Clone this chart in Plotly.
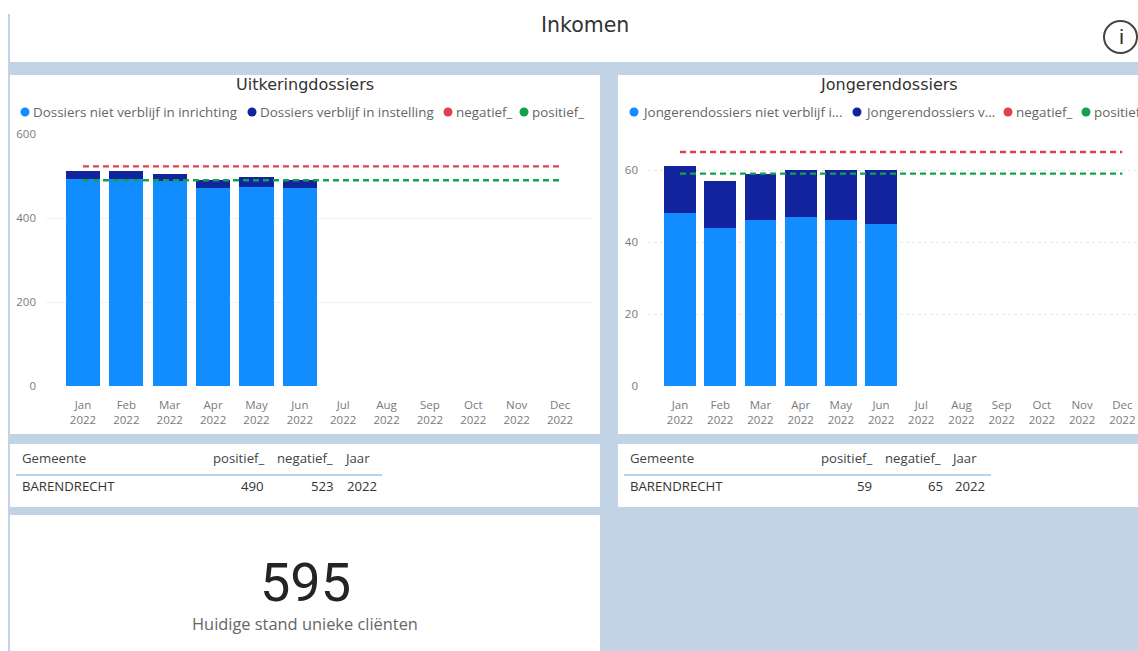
import plotly.graph_objects as go

W, H = 1138, 651

months = ["Jan", "Feb", "Mar", "Apr", "May", "Jun", "Jul", "Aug", "Sep", "Oct", "Nov", "Dec"]
year = "2022"
categories = [f"{m}<br>{year}" for m in months]

left_title = "Uitkeringdossiers"
left_outside = [493, 493, 488, 472, 475, 471]
left_inside = [19, 19, 16, 18, 22, 19]
left_positive = [490] * 12
left_negative = [523] * 12
left_ticks = [0, 200, 400, 600]

right_title = "Jongerendossiers"
right_outside = [48, 44, 46, 47, 46, 45]
right_inside = [13, 13, 13, 13, 14, 15]
right_positive = [59] * 12
right_negative = [65] * 12
right_ticks = [0, 20, 40, 60]

page_title = "Inkomen"
kpi_value = "595"
kpi_label = "Huidige stand unieke cliënten"
table_headers = ["Gemeente", "positief_", "negatief_", "Jaar"]
left_row = ["BARENDRECHT", "490", "523", "2022"]
right_row = ["BARENDRECHT", "59", "65", "2022"]

BLUE, NAVY, RED, GREEN = "#118DFF", "#12239E", "#E0414F", "#12A24C"
BG = "#C3D3E6"
FONT = "Open Sans, sans-serif"
TITLE_FONT = "DejaVu Sans, sans-serif"
GREY = "#7a7a7a"
DARK = "#444444"


def px(x):
    return x / W


def py(y):
    return 1 - y / H


fig = go.Figure()


def add_chart(outside, inside, pos, neg, xa, ya, names):
    xn, yn = xa.replace("axis", ""), ya.replace("axis", "")
    fig.add_bar(x=categories[:6], y=outside, marker_color=BLUE, marker_line_width=0, name=names[0], xaxis=xn, yaxis=yn)
    fig.add_bar(x=categories[:6], y=inside, marker_color=NAVY, marker_line_width=0, name=names[1], xaxis=xn, yaxis=yn)
    fig.add_scatter(x=categories, y=neg, mode="lines", line=dict(color=RED, width=2.4, dash="6px,4px"), name="negatief_", xaxis=xn, yaxis=yn)
    fig.add_scatter(x=categories, y=pos, mode="lines", line=dict(color=GREEN, width=2.4, dash="6px,4px"), name="positief_", xaxis=xn, yaxis=yn)


add_chart(left_outside, left_inside, left_positive, left_negative, "xaxis", "yaxis",
          ["Dossiers niet verblijf in inrichting", "Dossiers verblijf in instelling"])
add_chart(right_outside, right_inside, right_positive, right_negative, "xaxis2", "yaxis2",
          ["Jongerendossiers niet verblijf in inrichting", "Jongerendossiers verblijf in instelling"])

shapes = []


def rect(x0, y0, x1, y1, color="white"):
    shapes.append(dict(type="rect", xref="paper", yref="paper", x0=px(x0), x1=px(x1), y0=py(y0), y1=py(y1),
                       fillcolor=color, line_width=0, layer="below"))


# page background and cards
rect(0, 0, 8, H, "white")
rect(8, 0, W, 14, "white")
rect(10, 14, W, 62)
rect(10, 75, 600, 434)
rect(618, 75, W, 434)
rect(10, 444, 600, 507)
rect(618, 444, W, 507)
rect(10, 515, 600, H)

annotations = []


def text(x, y, s, size=12, color=DARK, anchor="left", family=FONT):
    shift = {"left": -2, "right": 2, "center": 0}[anchor]
    annotations.append(dict(xref="paper", yref="paper", x=px(x), y=py(y), text=s, showarrow=False,
                            xanchor=anchor, yanchor="middle", align=anchor, xshift=shift, yshift=0,
                            font=dict(size=size, color=color, family=family)))


text(585, 25, page_title, 20.5, "#333333", "center", TITLE_FONT)
text(305, 84, left_title, 16, "#333333", "center", TITLE_FONT)
text(889, 84, right_title, 16, "#333333", "center", TITLE_FONT)

# info icon
shapes.append(dict(type="circle", xref="paper", yref="paper", x0=px(1104), x1=px(1137), y0=py(53), y1=py(21),
                   line=dict(color="#444444", width=2), fillcolor="white"))
text(1121, 37, "i", 21, "#333333", "center", "Roboto, sans-serif")


def legend(items, y=112):
    for x, color, label in items:
        shapes.append(dict(type="circle", xref="paper", yref="paper", x0=px(x - 4.5), x1=px(x + 4.5),
                           y0=py(y + 4.5), y1=py(y - 4.5), fillcolor=color, line_width=0))
        text(x + 7.5, y, label, 13.4, "#666666")


legend([(25, BLUE, "Dossiers niet verblijf in inrichting"),
        (252, NAVY, "Dossiers verblijf in instelling"),
        (448, RED, "negatief_"),
        (524, GREEN, "positief_")])
legend([(634, BLUE, "Jongerendossiers niet verblijf i..."),
        (857, NAVY, "Jongerendossiers v..."),
        (1008, RED, "negatief_"),
        (1086, GREEN, "positief_")])


def table(x_first, right_edges, x_line0, x_line1, row):
    text(x_first, 458, table_headers[0], 13.2)
    text(x_first, 486, row[0], 13.2, "#333333")
    for edge, head, val in zip(right_edges, table_headers[1:], row[1:]):
        text(edge[0], 458, head, 13.2, DARK, "right")
        text(edge[1], 486, val, 13.2, "#333333", "right")
    shapes.append(dict(type="line", xref="paper", yref="paper", x0=px(x_line0), x1=px(x_line1), y0=py(475), y1=py(475),
                       line=dict(color="#9CC6E8", width=1.5)))


table(22, [(264, 264), (333, 334), (370, 377)], 16, 382, left_row)
table(630, [(872, 872), (941, 943), (977, 985)], 624, 991, right_row)

text(305, 582, kpi_value, 54, "#252423", "center", "Roboto, sans-serif")
text(305, 623, kpi_label, 16.4, "#666666", "center")

axis_font = dict(size=11.5, color=GREY, family=FONT)
xcommon = dict(type="category", categoryorder="array", categoryarray=categories, showgrid=False, showline=False,
               ticks="outside", ticklen=8, tickcolor="rgba(0,0,0,0)", tickfont=axis_font, tickangle=0, fixedrange=True)

fig.update_layout(
    width=W, height=H, margin=dict(l=0, r=0, t=0, b=0, pad=0, autoexpand=False), autosize=False,
    paper_bgcolor=BG, plot_bgcolor="rgba(0,0,0,0)",
    barmode="stack", bargap=0.21, showlegend=False,
    shapes=shapes, annotations=annotations,
    xaxis=dict(xcommon, domain=[px(46), px(593)], range=[-0.853, 11.76], automargin=False),
    yaxis=dict(domain=[py(386), py(134)], range=[0, 600], tickvals=left_ticks, showgrid=True, gridcolor="#F1F1F1",
               gridwidth=1, zeroline=False, showline=False, tickfont=axis_font, anchor="x", ticklabelstandoff=9,
               automargin=False),
    xaxis2=dict(xcommon, domain=[px(648), px(1138)], range=[-0.796, 11.39], anchor="y2", automargin=False),
    yaxis2=dict(domain=[py(386), py(134)], range=[0, 70], tickvals=right_ticks, showgrid=True, gridcolor="#E8E8E8",
                griddash="dot", gridwidth=1, zeroline=False, showline=False, tickfont=axis_font, anchor="x2",
                ticklabelstandoff=9, automargin=False),
)

fig.write_html("out.html", config=dict(displayModeBar=False),
               post_script="document.body.style.margin='0';document.body.style.overflow='hidden';")
